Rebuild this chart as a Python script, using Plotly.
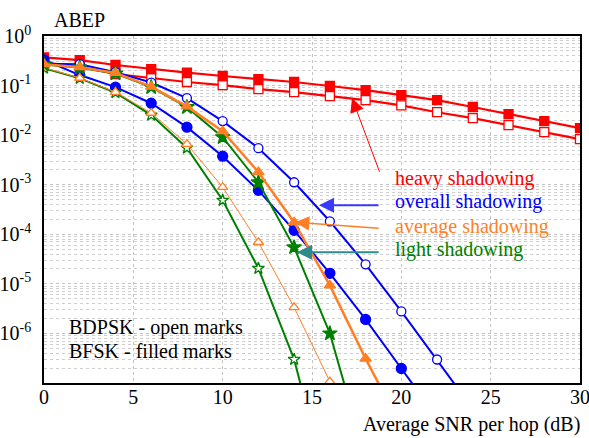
import plotly.graph_objects as go

snr = [0, 2, 4, 6, 8, 10, 12, 14, 16, 18, 20, 22, 24, 26, 28, 30]

heavy_bfsk = [0.37, 0.327, 0.26, 0.215, 0.183, 0.156, 0.135, 0.118, 0.098, 0.081,
              0.064, 0.051, 0.037, 0.0266, 0.0192, 0.0138]
heavy_bdpsk = [0.29, 0.24, 0.171, 0.142, 0.118, 0.102, 0.085, 0.074, 0.061, 0.051,
               0.040, 0.029, 0.022, 0.0159, 0.0115, 0.0083]
overall_bfsk = [0.33, 0.163, 0.093, 0.044, 0.0145, 0.00376, 7.7e-4, 1.2e-4, 1.63e-5,
                1.92e-6, 1.96e-7, 2.0e-8]
overall_bdpsk = [0.275, 0.27, 0.187, 0.115, 0.056, 0.0192, 0.00546, 1.12e-3, 1.83e-4,
                 2.48e-5, 2.78e-6, 2.98e-7, 3.0e-8]
average_bfsk = [0.27, 0.235, 0.18, 0.095, 0.038, 0.012, 1.79e-3, 1.75e-4, 9.3e-6,
                3.1e-7, 1.3e-8]
average_bdpsk = [0.23, 0.142, 0.074, 0.028, 0.0066, 8.9e-4, 6.9e-5, 3.35e-6, 1.07e-7, 3e-9]
light_bfsk = [0.265, 0.23, 0.175, 0.093, 0.0367, 0.0091, 1.12e-3, 5.46e-5, 1.0e-6, 3e-9]
light_bdpsk = [0.225, 0.14, 0.072, 0.0254, 0.0055, 4.86e-4, 2.06e-5, 2.99e-7, 5e-10]

x_ticks = [0, 5, 10, 15, 20, 25, 30]
y_tick_exps = [0, -1, -2, -3, -4, -5, -6]
legend_labels = ["heavy shadowing", "overall shadowing", "average shadowing", "light shadowing"]
note_lines = ["BDPSK - open marks", "BFSK - filled marks"]

RED = "#ff0000"
BLUE = "#0000ff"
ORANGE = "#ff7f27"
GREEN = "#008000"
TEAL = "#2e8b8b"
FONT = "Liberation Serif, Times New Roman, serif"

fig = go.Figure()


def add(y, color, symbol, filled, lw, size):
    fig.add_trace(go.Scatter(
        x=snr[:len(y)], y=y, mode="lines+markers",
        line=dict(color=color, width=lw),
        marker=dict(symbol=symbol, size=size,
                    color=color if filled else "white",
                    line=dict(color=color, width=1.3)),
        showlegend=False))


add(heavy_bdpsk, RED, "square", False, 2.2, 9)
add(heavy_bfsk, RED, "square", True, 2.2, 9)
add(overall_bdpsk, BLUE, "circle", False, 2, 9)
add(overall_bfsk, BLUE, "circle", True, 2, 10)
add(light_bdpsk, GREEN, "star", False, 2, 9)
add(average_bdpsk, ORANGE, "triangle-up", False, 1, 9)
add(light_bfsk, GREEN, "star", True, 2, 11)
add(average_bfsk, ORANGE, "triangle-up", True, 2.5, 10)

minor_vals = [k * 10.0 ** e for e in range(-7, 0) for k in range(2, 10)]

fig.update_layout(
    width=589, height=438,
    margin=dict(l=44, r=9, t=36, b=55),
    paper_bgcolor="white", plot_bgcolor="white",
    font=dict(family=FONT, size=20, color="black"),
    xaxis=dict(range=[0, 30], tickmode="array", tickvals=x_ticks, automargin=False,
               ticklabeloverflow="allow",
               showgrid=True, gridcolor="#c4c4c4", griddash="dot", gridwidth=1,
               showline=True, linecolor="black", linewidth=1.5, mirror=True,
               zeroline=False, ticks="", ticklabelstandoff=-5,
               tickfont=dict(size=20, family=FONT)),
    yaxis=dict(type="log", range=[-7, 0], tickmode="array", automargin=False,
               ticklabeloverflow="allow",
               tickvals=[10.0 ** e for e in y_tick_exps],
               ticktext=["10<sup>%d</sup>" % e for e in y_tick_exps],
               showgrid=True, gridcolor="#c4c4c4", griddash="dot", gridwidth=1,
               minor=dict(tickmode="array", tickvals=minor_vals, showgrid=True,
                          gridcolor="#cfcfcf", griddash="dot", gridwidth=1, ticks=""),
               showline=True, linecolor="black", linewidth=1.5, mirror=True,
               zeroline=False, ticks="", ticklabelstandoff=7,
               tickfont=dict(size=20, family=FONT)),
)

PW, PH, L, T = 536.0, 347.0, 44.0, 36.0


def px(xp):
    return (xp - L) / PW


def py(yp):
    return (T + PH - yp) / PH


# white boxes behind the text blocks
fig.add_shape(type="rect", xref="paper", yref="paper", x0=px(68), x1=px(257), y0=py(367), y1=py(315),
              fillcolor="white", line=dict(width=0), layer="between")
fig.add_shape(type="rect", xref="paper", yref="paper", x0=px(393), x1=px(560), y0=py(262), y1=py(165),
              fillcolor="white", line=dict(width=0), layer="between")

fig.add_annotation(text="ABEP", xref="paper", yref="paper", x=px(52), y=py(20),
                   xanchor="left", yanchor="middle", showarrow=False,
                   font=dict(size=20, family=FONT))
fig.add_annotation(text="Average SNR per hop (dB)", xref="paper", yref="paper", x=px(582), y=py(425),
                   xanchor="right", yanchor="middle", showarrow=False,
                   font=dict(size=20, family=FONT))

for i, line in enumerate(note_lines):
    fig.add_annotation(text=line, xref="paper", yref="paper", x=px(67), y=py(327 + 24 * i),
                       xanchor="left", yanchor="middle", showarrow=False,
                       font=dict(size=20, family=FONT))

leg_colors = [RED, BLUE, ORANGE, GREEN]
for i, (lab, col) in enumerate(zip(legend_labels, leg_colors)):
    fig.add_annotation(text=lab, xref="paper", yref="paper", x=px(393), y=py(178 + 24 * i),
                       xanchor="left", yanchor="middle", showarrow=False,
                       font=dict(size=20, color=col, family=FONT))

# arrows (tip, tail) in data coords: x in dB, y in log10
arrows = [
    ((17.24, -1.253), (18.81, -2.768), RED, 1, 2.8),
    ((15.39, -3.414), (18.81, -3.414), "#3a3aff", 2, 1.5),
    ((14.05, -3.758), (18.81, -3.879), ORANGE, 1.5, 1.9),
    ((14.16, -4.364), (18.81, -4.364), TEAL, 2, 1.5),
]
for (tx, ty), (ax, ay), col, w, s in arrows:
    fig.add_annotation(x=tx, y=ty, ax=ax, ay=ay, xref="x", yref="y", axref="x", ayref="y",
                       text="", showarrow=True, arrowhead=2, arrowsize=s, arrowwidth=w,
                       arrowcolor=col, standoff=0)

fig.write_html("out.html")
